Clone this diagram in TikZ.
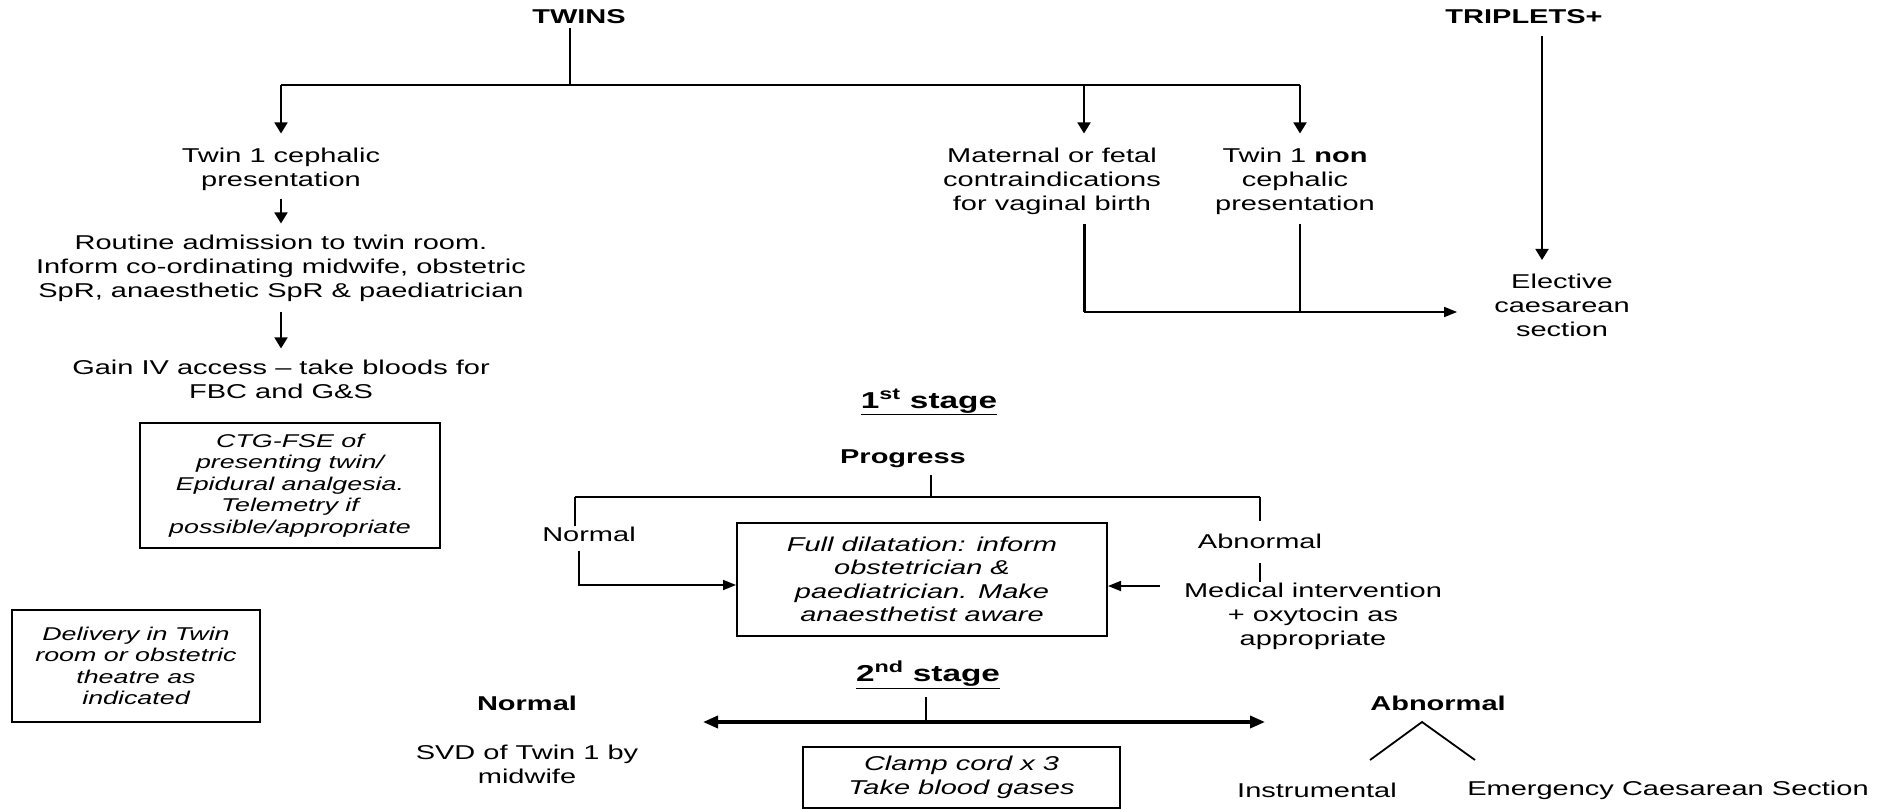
\documentclass[tikz,border=0pt]{standalone}
\usepackage{fontspec}
\setmainfont{Liberation Sans}[FakeStretch=1.45]
\usetikzlibrary{arrows.meta}
\begin{document}
\begin{tikzpicture}[x=1pt,y=-1pt,
  txt/.style={inner sep=0pt, align=center, font=\fontsize{20}{24}\selectfont},
  btxt/.style={inner sep=0pt, align=center, font=\fontsize{20}{24}\selectfont\bfseries},
  head/.style={inner sep=0pt, align=center, font=\fontsize{23}{27}\selectfont\bfseries},
  smallbox/.style={draw, line width=2pt, inner sep=0pt, align=center, font=\fontsize{18.5}{21.5}\selectfont\itshape},
  bigbox/.style={draw, line width=2pt, inner sep=0pt, align=center, font=\fontsize{20}{23.5}\selectfont\itshape},
  ln/.style={line width=1.8pt},
  thickln/.style={line width=3pt},
  varr/.style={line width=1.8pt, -{Triangle[length=11pt,width=13pt]}},
  harr/.style={line width=1.8pt, -{Triangle[length=13pt,width=10pt]}},
  dblarr/.style={line width=3.5pt, {Triangle[length=15pt,width=12pt]}-{Triangle[length=15pt,width=12pt]}}
]
\useasboundingbox[fill=white] (0,0) rectangle (1892,810);

% top headings
\node[btxt] (twins) at (579,17) {TWINS};
\node[btxt] (trip) at (1524,17) {TRIPLETS+};

% twins branches
\node[txt] (t1c) at (281,169) {Twin 1 cephalic\\presentation};
\node[txt] (mat) at (1052,181) {Maternal or fetal\\contraindications\\for vaginal birth};
\node[txt] (t1n) at (1295,181) {Twin 1 \textbf{non}\\cephalic\\presentation};
\node[txt] (elect) at (1562,305) {Elective\\caesarean\\section};

\coordinate (split) at (570,85);
\coordinate (jl) at (281,85);
\coordinate (jm) at (1084,85);
\coordinate (jr) at (1300,85);
\draw[ln, shorten <=4pt] (split |- twins.south) -- (split);
\draw[ln] (jl) -- (jr);
\draw[varr, shorten >=14pt] (jl) -- (t1c.north);
\draw[varr, shorten >=14pt] (jm) -- (jm |- mat.north);
\draw[varr, shorten >=14pt] (jr) -- (jr |- t1n.north);

\coordinate (bm) at (1084,312);
\coordinate (bn) at (1300,312);
\coordinate (tripend) at (1542,260);
\draw[thickln, shorten <=9pt] (jm |- mat.south) -- (bm);
\draw[ln, shorten <=9pt] (jr |- t1n.south) -- (bn);
\draw[harr, shorten >=37pt] (bm) -- (elect.west |- bm);
\draw[varr, shorten <=12pt] (tripend |- trip.south) -- (tripend);

% left column
\node[txt] (routine) at (281,268) {Routine admission to twin room.\\Inform co-ordinating midwife, obstetric\\SpR, anaesthetic SpR \& paediatrician};
\node[txt] (gain) at (281,379) {Gain IV access -- take bloods for\\FBC and G\&S};
\draw[varr, shorten <=8pt, shorten >=11pt] (t1c.south) -- (routine.north);
\draw[varr, shorten <=10pt, shorten >=11pt] (routine.south) -- (gain.north);

\node[smallbox, minimum width=300pt, minimum height=125pt] (ctg) at (290,485.5)
  {CTG-FSE of\\presenting twin/\\Epidural analgesia.\\Telemetry if\\possible/appropriate};
\node[smallbox, minimum width=248pt, minimum height=112pt] (deliv) at (136,666)
  {Delivery in Twin\\room or obstetric\\theatre as\\indicated};

% first stage
\node[head] (st1) at (929,402) {\underline{1\textsuperscript{st} stage}};
\node[btxt] (prog) at (903,459) {Progress};
\coordinate (pj) at (931,497);
\coordinate (pl) at (575,497);
\coordinate (pr) at (1260,497);
\draw[ln, shorten <=7pt] (pj |- prog.south) -- (pj);
\draw[ln] (pl) -- (pr);

\node[txt] (norm1) at (589,534) {Normal};
\node[bigbox, minimum width=370pt, minimum height=113pt] (full) at (922,579.5)
  {Full dilatation: inform\\obstetrician \&\\paediatrician. Make\\anaesthetist aware};
\node[txt] (abn1) at (1260,541) {Abnormal};
\node[txt] (med) at (1313,616) {Medical intervention\\+ oxytocin as\\appropriate};

\draw[ln] (pl) -- (pl |- norm1.north);
\coordinate (nc) at (579,585);
\draw[harr, shorten <=9pt] (nc |- norm1.south) -- (nc) -- (full.west |- nc);
\draw[ln, shorten >=12pt] (pr) -- (pr |- abn1.north);
\draw[ln, shorten <=14pt] (pr |- abn1.south) -- (pr |- med.north);
\coordinate (mi) at (1160,586);
\draw[harr] (mi) -- (full.east |- mi);

% second stage
\node[head] (st2) at (928,675) {\underline{2\textsuperscript{nd} stage}};
\coordinate (dj) at (926,722);
\coordinate (dl) at (703,722);
\coordinate (dr) at (1265,722);
\draw[ln, shorten <=8pt] (dj |- st2.south) -- (dj);
\draw[dblarr] (dl) -- (dr);

\node[btxt] (norm2) at (527,703) {Normal};
\node[txt] (svd) at (527,764) {SVD of Twin 1 by\\midwife};
\node[bigbox, minimum width=317pt, minimum height=61pt] (clamp) at (961.5,777.5)
  {Clamp cord x 3\\Take blood gases};

\node[btxt] (abn2) at (1438,703) {Abnormal};
\coordinate (ap) at (1422,722);
\coordinate (cl) at (1370,760);
\coordinate (cr) at (1475,760);
\draw[ln] (cl) -- (ap) -- (cr);
\node[txt] (instr) at (1317,790) {Instrumental};
\node[txt] (emerg) at (1668,790) {Emergency Caesarean Section};
\end{tikzpicture}
\end{document}
